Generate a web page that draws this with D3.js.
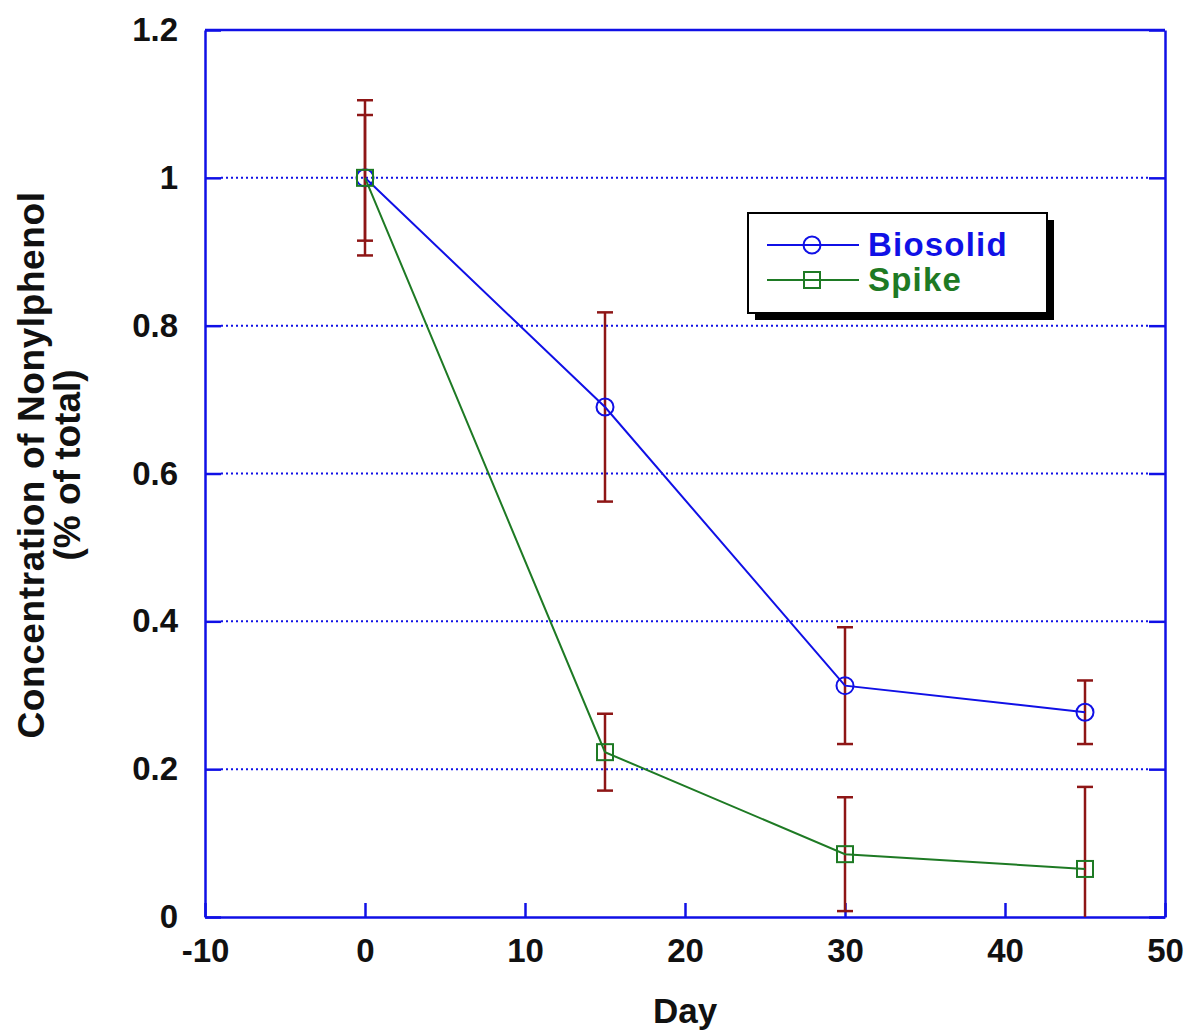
<!DOCTYPE html>
<html>
<head>
<meta charset="utf-8">
<script src="https://cdn.jsdelivr.net/npm/d3@7"></script>
<style>
  body { margin: 0; background: #fff; }
  text { font-family: "Liberation Sans", Arial, sans-serif; font-weight: bold; }
</style>
</head>
<body>
<div id="chart"></div>
<script>
var days = [0, 15, 30, 45]
  , biosolid = [1.0, 0.69, 0.313, 0.277]
  , biosolidErr = [0.105, 0.128, 0.079, 0.043]
  , spike = [1.0, 0.223, 0.085, 0.065]
  , spikeErr = [0.085, 0.052, 0.077, 0.111]
  , xTicks = [-10, 0, 10, 20, 30, 40, 50]
  , yTicks = [0, 0.2, 0.4, 0.6, 0.8, 1, 1.2]
  ;

var W = 1190, H = 1030
  , m = {left: 205, right: 25, top: 30, bottom: 113}
  , blue = "#1010e6", green = "#1e7a24", red = "#8e1616"
  , font = "Liberation Sans, Arial, sans-serif"
  , svg = d3.select("#chart").append("svg").attr("width", W).attr("height", H)
  , x = d3.scaleLinear().domain([-10, 50]).range([m.left, W - m.right])
  , y = d3.scaleLinear().domain([0, 1.2]).range([H - m.bottom, m.top])
  ;

// dotted grid
svg.append("g").selectAll("line").data(yTicks.filter(function (d) { return d > 0 && d < 1.2; }))
  .enter().append("line")
  .attr("x1", x(-10) + 16).attr("x2", x(50) - 16)
  .attr("y1", function (d) { return y(d); }).attr("y2", function (d) { return y(d); })
  .attr("stroke", blue).attr("stroke-width", 2).attr("stroke-dasharray", "2,3");

// axes with inward ticks
svg.append("g").attr("transform", "translate(0," + y(0) + ")")
  .call(d3.axisBottom(x).tickValues(xTicks).tickSizeInner(-14).tickSizeOuter(0).tickPadding(22)
    .tickFormat(function (d) { return String(d); }))
  .call(function (g) {
    g.select(".domain").attr("stroke", blue).attr("stroke-width", 2.5);
    g.selectAll(".tick line").attr("stroke", blue).attr("stroke-width", 2.5);
    g.selectAll("text").attr("font-size", 33).attr("fill", "#111").attr("dy", "0.71em")
      .attr("font-family", font);
  });

svg.append("g").attr("transform", "translate(" + x(-10) + ",0)")
  .call(d3.axisLeft(y).tickValues(yTicks).tickSizeInner(-16).tickSizeOuter(0).tickPadding(27)
    .tickFormat(function (d) { return String(d); }))
  .call(function (g) {
    g.select(".domain").attr("stroke", blue).attr("stroke-width", 2.5);
    g.selectAll(".tick line").attr("stroke", blue).attr("stroke-width", 2.5);
    g.selectAll("text").attr("font-size", 33).attr("fill", "#111")
      .attr("font-family", font);
  });

svg.append("g").attr("transform", "translate(" + x(50) + ",0)")
  .call(d3.axisRight(y).tickValues(yTicks).tickSizeInner(-16).tickSizeOuter(0).tickFormat(""))
  .call(function (g) {
    g.select(".domain").attr("stroke", blue).attr("stroke-width", 2.5);
    g.selectAll(".tick line").attr("stroke", blue).attr("stroke-width", 2.5);
  });

svg.append("line")
  .attr("x1", x(-10)).attr("x2", x(50)).attr("y1", y(1.2)).attr("y2", y(1.2))
  .attr("stroke", blue).attr("stroke-width", 2.5);

// axis titles
svg.append("text").attr("x", x(20)).attr("y", 1023).attr("text-anchor", "middle")
  .attr("font-size", 35).attr("fill", "#111").text("Day");

var yl = svg.append("text").attr("transform", "translate(44," + 465 + ") rotate(-90)")
  .attr("text-anchor", "middle").attr("font-size", 37).attr("fill", "#111");
yl.append("tspan").attr("x", 0).attr("dy", 0).attr("letter-spacing", 0.6).text("Concentration of Nonylphenol");
yl.append("tspan").attr("x", 0).attr("dy", 36).text("(% of total)");

// series
function drawSeries(vals, errs, color, shape) {
  var g = svg.append("g");
  g.selectAll("line.err").data(days).enter().append("line").attr("class", "err")
    .attr("x1", function (d) { return x(d); }).attr("x2", function (d) { return x(d); })
    .attr("y1", function (d, i) { return y(Math.max(0, vals[i] - errs[i])); })
    .attr("y2", function (d, i) { return y(vals[i] + errs[i]); })
    .attr("stroke", red).attr("stroke-width", 2.5);
  [1, -1].forEach(function (s) {
    g.selectAll("line.cap" + s).data(days).enter().append("line")
      .filter(function (d, i) { return vals[i] + s * errs[i] >= 0; })
      .attr("x1", function (d) { return x(d) - 8; }).attr("x2", function (d) { return x(d) + 8; })
      .attr("y1", function (d) { var i = days.indexOf(d); return y(vals[i] + s * errs[i]); })
      .attr("y2", function (d) { var i = days.indexOf(d); return y(vals[i] + s * errs[i]); })
      .attr("stroke", red).attr("stroke-width", 2.5);
  });
  g.append("path").datum(days)
    .attr("d", d3.line().x(function (d) { return x(d); }).y(function (d, i) { return y(vals[i]); }))
    .attr("fill", "none").attr("stroke", color).attr("stroke-width", 2);
  drawMarkers(g, days.map(function (d, i) { return [x(d), y(vals[i])]; }), color, shape);
}

function drawMarkers(g, pts, color, shape) {
  if (shape === "circle") {
    g.selectAll("circle.mk").data(pts).enter().append("circle").attr("class", "mk")
      .attr("cx", function (p) { return p[0]; }).attr("cy", function (p) { return p[1]; })
      .attr("r", 8.5).attr("fill", "none").attr("stroke", color).attr("stroke-width", 2);
  } else {
    g.selectAll("rect.mk").data(pts).enter().append("rect").attr("class", "mk")
      .attr("x", function (p) { return p[0] - 8; }).attr("y", function (p) { return p[1] - 8; })
      .attr("width", 16).attr("height", 16).attr("fill", "none").attr("stroke", color).attr("stroke-width", 2);
  }
}

drawSeries(biosolid, biosolidErr, blue, "circle");
drawSeries(spike, spikeErr, green, "square");

// legend
var lg = svg.append("g").attr("transform", "translate(748,213)");
lg.append("rect").attr("x", 7).attr("y", 7).attr("width", 299).attr("height", 100).attr("fill", "#000");
lg.append("rect").attr("x", 0).attr("y", 0).attr("width", 299).attr("height", 100)
  .attr("fill", "#fff").attr("stroke", "#000").attr("stroke-width", 2);
var legendItems = [["Biosolid", blue, "circle", 32], ["Spike", green, "square", 67]];
legendItems.forEach(function (it) {
  lg.append("line").attr("x1", 19).attr("x2", 111).attr("y1", it[3]).attr("y2", it[3])
    .attr("stroke", it[1]).attr("stroke-width", 2);
  drawMarkers(lg.append("g"), [[64, it[3]]], it[1], it[2]);
  lg.append("text").attr("x", 120).attr("y", it[3] + 11).attr("font-size", 33)
    .attr("letter-spacing", 1.2).attr("fill", it[1]).text(it[0]);
});
</script>
</body>
</html>
